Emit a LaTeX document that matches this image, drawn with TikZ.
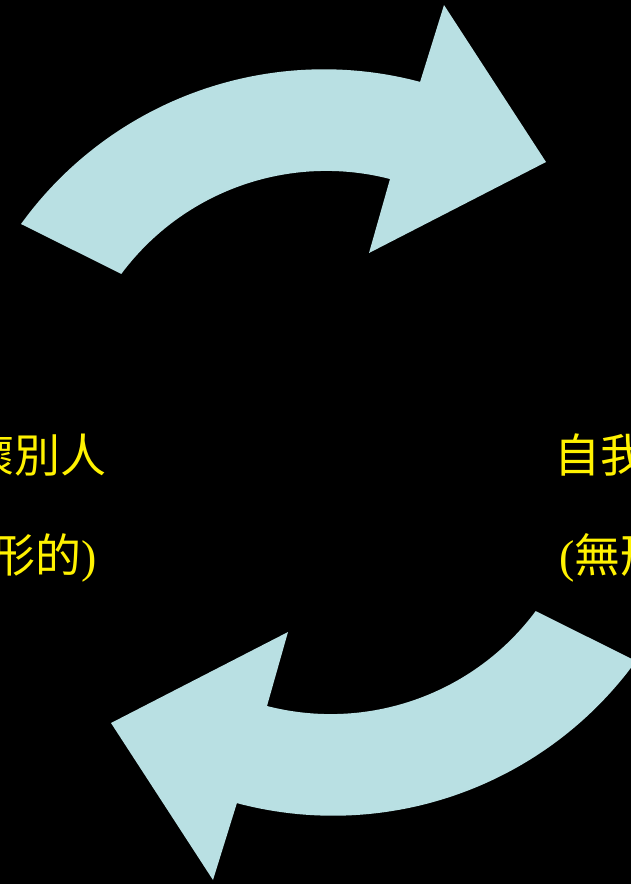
\documentclass[tikz,border=0pt]{standalone}
\usepackage{fontspec}
\newfontfamily\cjk{Noto Sans CJK TC}
\newfontfamily\latn{Liberation Serif}
\definecolor{arrowblue}{RGB}{185,224,227}
\newcommand{\bentarrow}[1][]
{\begin{scope}[#1]
	\fill [arrowblue] (21,-224) arc (144.1:75.1:374) -- (444,-5) -- (546,-162) -- (369,-253) -- (390,-179) arc (75.56:143.35:255.5) -- cycle;
	\end{scope}
}
\tikzset{yelltext/.style={text=yellow,inner sep=0pt,font=\cjk\fontsize{46}{50}\selectfont}}

\begin{document}
\begin{tikzpicture}[x=1pt,y=1pt]

\useasboundingbox (0,0) rectangle (631,-884);
\fill [black] (0,0) rectangle (631,-884);
\clip (0,0) rectangle (631,-884);

\bentarrow;%top
\bentarrow[rotate around={180:(328.5,-442.5)}];%bottom

\node [yelltext,anchor=base east] (careL) at (107,-472) {懷別人};
\node [yelltext,anchor=base east] (formL) at (97,-572) {形的{\latn)}};
\node [yelltext,anchor=base west] (selfR) at (554,-472) {自我};
\node [yelltext,anchor=base west] (formR) at (559,-572) {{\latn(}無形};

\end{tikzpicture}
\end{document}
